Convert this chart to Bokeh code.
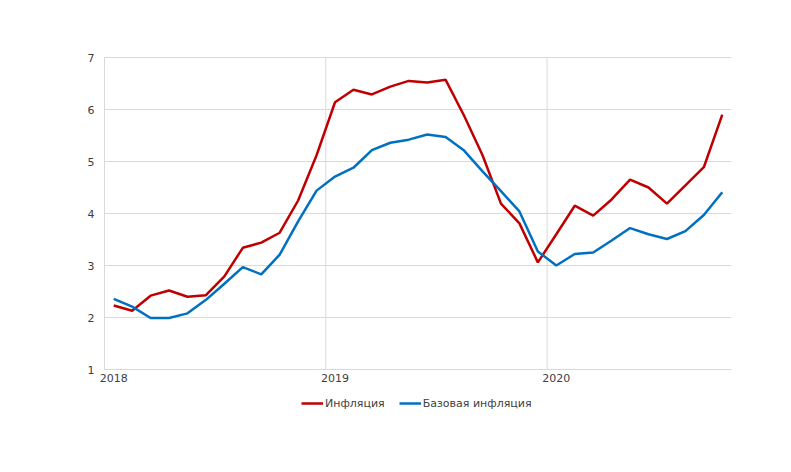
from bokeh.plotting import figure
from bokeh.models import ColumnDataSource, FixedTicker, Legend, LegendItem, Range1d
from bokeh.embed import file_html
from bokeh.resources import INLINE

months = list(range(34))
inflation = [2.23, 2.13, 2.42, 2.52, 2.40, 2.43, 2.79, 3.34, 3.44, 3.63, 4.25, 5.12,
             6.14, 6.38, 6.29, 6.44, 6.55, 6.52, 6.57, 5.88, 5.12, 4.19, 3.81, 3.06,
             3.60, 4.15, 3.96, 4.27, 4.65, 4.50, 4.19, 4.54, 4.89, 5.90]
core = [2.36, 2.21, 1.99, 1.99, 2.08, 2.34, 2.65, 2.97, 2.83, 3.21, 3.85, 4.44,
        4.71, 4.88, 5.22, 5.36, 5.42, 5.52, 5.47, 5.21, 4.81, 4.43, 4.04, 3.27,
        3.00, 3.22, 3.25, 3.48, 3.72, 3.60, 3.51, 3.66, 3.97, 4.41]
year_ticks = [0, 12, 24]
year_labels = ["2018", "2019", "2020"]
year_boundaries = [11.5, 23.5]
y_ticks = [1, 2, 3, 4, 5, 6, 7]

src = ColumnDataSource(dict(x=months, infl=inflation, core=core))
ymin, ymax = y_ticks[0], y_ticks[-1]
x_lo, x_hi = months[0] - 0.5, months[-1] + 0.5
px_per_unit = 52
px_per_month = 627 / len(months)
extra_left = 34
extra_top = 12
frame_h = 370 + extra_top

vgrid = ColumnDataSource(dict(x=year_boundaries, y0=[ymin] * len(year_boundaries),
                              y1=[ymax] * len(year_boundaries)))
hgrid = ColumnDataSource(dict(y=y_ticks, x0=[x_lo] * len(y_ticks), x1=[x_hi] * len(y_ticks)))

y_top = ymax + extra_top / px_per_unit
p = figure(frame_width=627 + extra_left, frame_height=frame_h,
           output_backend="svg", toolbar_location=None,
           x_range=Range1d(x_lo - extra_left / px_per_month, x_hi),
           y_range=Range1d(y_top - frame_h / px_per_unit, y_top),
           min_border_left=104 - extra_left, min_border_top=57 - extra_top,
           min_border_right=44, min_border_bottom=29)
p.outline_line_color = None
p.background_fill_color = "white"
p.border_fill_color = "white"

p.segment(x0="x", x1="x", y0="y0", y1="y1", source=vgrid, line_color="#d9d9d9", line_width=1)
p.segment(x0="x0", x1="x1", y0="y", y1="y", source=hgrid, line_color="#d9d9d9", line_width=1)
r1 = p.line("x", "infl", source=src, line_color="#C00000", line_width=2.5)
r2 = p.line("x", "core", source=src, line_color="#0070C0", line_width=2.5)

font = "DejaVu Sans"
p.xaxis.ticker = FixedTicker(ticks=year_ticks)
p.xaxis.major_label_overrides = {t: l for t, l in zip(year_ticks, year_labels)}
p.xaxis.fixed_location = ymin
p.xaxis.bounds = (x_lo, x_hi)
p.yaxis.ticker = FixedTicker(ticks=y_ticks)
p.yaxis.fixed_location = x_lo
p.yaxis.bounds = (ymin, ymax)
for ax in (p.xaxis[0], p.yaxis[0]):
    ax.major_tick_line_color = None
    ax.minor_tick_line_color = None
    ax.major_tick_out = 0
    ax.axis_line_color = "#d9d9d9"
    ax.major_label_text_font = font
    ax.major_label_text_font_size = "11px"
    ax.major_label_text_color = "#404040"
p.xaxis.major_label_standoff = 4
p.yaxis.major_label_standoff = 10

p.xgrid.grid_line_color = None
p.ygrid.grid_line_color = None

legend = Legend(items=[LegendItem(label="Инфляция", renderers=[r1]),
                       LegendItem(label="Базовая инфляция", renderers=[r2])],
                orientation="horizontal", location=(197 + extra_left, 14),
                label_text_font=font, label_text_font_size="11px",
                label_text_color="#404040", glyph_width=22, label_standoff=2,
                spacing=14, border_line_color=None, background_fill_alpha=0,
                padding=0, margin=0)
p.add_layout(legend, "center")

open("out.html", "w").write(file_html(p, INLINE))
